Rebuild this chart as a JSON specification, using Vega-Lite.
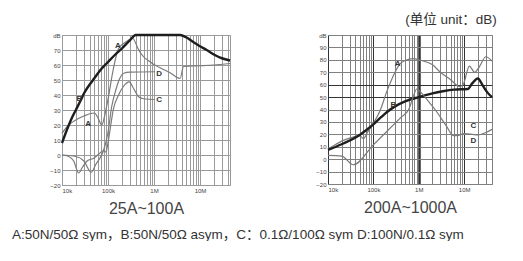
{
  "$schema": "https://vega.github.io/schema/vega-lite/v6.json",
  "padding": {"left": 12, "top": 12, "right": 0, "bottom": 0},
  "background": "white",
  "config": {
    "font": "'Liberation Sans', 'Noto Sans CJK SC', sans-serif",
    "view": {"stroke": "#999"},
    "axis": {"labelFontSize": 6, "labelColor": "#444", "ticks": false, "domain": false, "labelOverlap": false, "labelPadding": 2, "titleFontSize": 16, "titleFontWeight": "normal", "titleColor": "#444", "titlePadding": 7, "labelFont": "'Liberation Sans', sans-serif"}
  },
  "title": {"text": "A:50N/50Ω sym，B:50N/50Ω asym，C：0.1Ω/100Ω sym  D:100N/0.1Ω sym", "orient": "bottom", "anchor": "start", "frame": "group", "dx": -50, "fontSize": 13.5, "fontWeight": "normal", "color": "#333", "offset": 11},
  "spacing": 98,
  "bounds": "flush",
  "datasets": {
    "curves": [
      {"p":"L","s":"A","f":10000,"db":14.5},{"p":"L","s":"A","f":13000,"db":19},{"p":"L","s":"A","f":18000,"db":22.5},{"p":"L","s":"A","f":30000,"db":26},{"p":"L","s":"A","f":40000,"db":27.5},{"p":"L","s":"A","f":51000,"db":28},{"p":"L","s":"A","f":60000,"db":25},{"p":"L","s":"A","f":73000,"db":20},{"p":"L","s":"A","f":83000,"db":25},{"p":"L","s":"A","f":90000,"db":30},{"p":"L","s":"A","f":100000,"db":37},{"p":"L","s":"A","f":130000,"db":57},{"p":"L","s":"A","f":170000,"db":71},{"p":"L","s":"A","f":250000,"db":75.5},{"p":"L","s":"A","f":340000,"db":78},{"p":"L","s":"A","f":450000,"db":71},{"p":"L","s":"A","f":510000,"db":68},{"p":"L","s":"A","f":830000,"db":62},{"p":"L","s":"A","f":1300000,"db":58.5},{"p":"L","s":"A","f":2200000,"db":55},{"p":"L","s":"A","f":3700000,"db":51},{"p":"L","s":"A","f":4400000,"db":59},{"p":"L","s":"A","f":10000000,"db":59.5},{"p":"L","s":"A","f":20000000,"db":60},{"p":"L","s":"A","f":45000000,"db":61},
      {"p":"L","s":"B","f":10000,"db":8},{"p":"L","s":"B","f":12500,"db":16},{"p":"L","s":"B","f":16000,"db":24},{"p":"L","s":"B","f":20000,"db":30},{"p":"L","s":"B","f":26000,"db":37},{"p":"L","s":"B","f":30000,"db":41},{"p":"L","s":"B","f":40000,"db":47},{"p":"L","s":"B","f":50000,"db":51},{"p":"L","s":"B","f":70000,"db":57},{"p":"L","s":"B","f":100000,"db":62},{"p":"L","s":"B","f":150000,"db":67.5},{"p":"L","s":"B","f":200000,"db":71},{"p":"L","s":"B","f":300000,"db":76.5},{"p":"L","s":"B","f":400000,"db":80},{"p":"L","s":"B","f":3700000,"db":80},{"p":"L","s":"B","f":5000000,"db":78.5},{"p":"L","s":"B","f":7000000,"db":75.5},{"p":"L","s":"B","f":10000000,"db":72.5},{"p":"L","s":"B","f":14000000,"db":70},{"p":"L","s":"B","f":20000000,"db":67},{"p":"L","s":"B","f":30000000,"db":64.5},{"p":"L","s":"B","f":45000000,"db":63},
      {"p":"L","s":"C","f":10000,"db":0},{"p":"L","s":"C","f":14000,"db":-1},{"p":"L","s":"C","f":18000,"db":-4},{"p":"L","s":"C","f":23000,"db":-12},{"p":"L","s":"C","f":28000,"db":-8},{"p":"L","s":"C","f":35000,"db":-4},{"p":"L","s":"C","f":50000,"db":-2},{"p":"L","s":"C","f":65000,"db":1},{"p":"L","s":"C","f":80000,"db":3},{"p":"L","s":"C","f":90000,"db":2},{"p":"L","s":"C","f":100000,"db":8},{"p":"L","s":"C","f":115000,"db":20},{"p":"L","s":"C","f":130000,"db":30},{"p":"L","s":"C","f":170000,"db":40},{"p":"L","s":"C","f":220000,"db":46},{"p":"L","s":"C","f":290000,"db":48.7},{"p":"L","s":"C","f":350000,"db":45},{"p":"L","s":"C","f":470000,"db":38.7},{"p":"L","s":"C","f":600000,"db":37.5},{"p":"L","s":"C","f":1050000,"db":37},
      {"p":"L","s":"D","f":10000,"db":0},{"p":"L","s":"D","f":20000,"db":-1},{"p":"L","s":"D","f":30000,"db":-4},{"p":"L","s":"D","f":43000,"db":-11.5},{"p":"L","s":"D","f":55000,"db":-6},{"p":"L","s":"D","f":70000,"db":-1},{"p":"L","s":"D","f":80000,"db":3},{"p":"L","s":"D","f":100000,"db":15},{"p":"L","s":"D","f":120000,"db":32},{"p":"L","s":"D","f":150000,"db":44},{"p":"L","s":"D","f":180000,"db":51},{"p":"L","s":"D","f":220000,"db":54.5},{"p":"L","s":"D","f":300000,"db":55.3},{"p":"L","s":"D","f":1050000,"db":55.5},
      {"p":"R","s":"A","f":10000,"db":8},{"p":"R","s":"A","f":15000,"db":12},{"p":"R","s":"A","f":20000,"db":14.5},{"p":"R","s":"A","f":30000,"db":17},{"p":"R","s":"A","f":50000,"db":19},{"p":"R","s":"A","f":60000,"db":16.5},{"p":"R","s":"A","f":75000,"db":22},{"p":"R","s":"A","f":100000,"db":29},{"p":"R","s":"A","f":140000,"db":39},{"p":"R","s":"A","f":200000,"db":55},{"p":"R","s":"A","f":300000,"db":70},{"p":"R","s":"A","f":380000,"db":76.5},{"p":"R","s":"A","f":500000,"db":79.5},{"p":"R","s":"A","f":750000,"db":81},{"p":"R","s":"A","f":1000000,"db":80},{"p":"R","s":"A","f":2000000,"db":76},{"p":"R","s":"A","f":3000000,"db":70},{"p":"R","s":"A","f":5000000,"db":64},{"p":"R","s":"A","f":8000000,"db":58.5},{"p":"R","s":"A","f":9500000,"db":60},{"p":"R","s":"A","f":13000000,"db":75},{"p":"R","s":"A","f":17000000,"db":70},{"p":"R","s":"A","f":22000000,"db":75},{"p":"R","s":"A","f":30000000,"db":82.5},{"p":"R","s":"A","f":41000000,"db":79},
      {"p":"R","s":"B","f":10000,"db":7.5},{"p":"R","s":"B","f":20000,"db":12},{"p":"R","s":"B","f":30000,"db":15},{"p":"R","s":"B","f":50000,"db":19.5},{"p":"R","s":"B","f":70000,"db":23.5},{"p":"R","s":"B","f":100000,"db":28},{"p":"R","s":"B","f":150000,"db":34},{"p":"R","s":"B","f":200000,"db":38},{"p":"R","s":"B","f":300000,"db":42.5},{"p":"R","s":"B","f":500000,"db":46.5},{"p":"R","s":"B","f":1000000,"db":50},{"p":"R","s":"B","f":2000000,"db":53},{"p":"R","s":"B","f":3400000,"db":54.7},{"p":"R","s":"B","f":6000000,"db":56},{"p":"R","s":"B","f":12000000,"db":56.5},{"p":"R","s":"B","f":15000000,"db":61},{"p":"R","s":"B","f":20000000,"db":65},{"p":"R","s":"B","f":26000000,"db":59},{"p":"R","s":"B","f":32000000,"db":54},{"p":"R","s":"B","f":41000000,"db":50},
      {"p":"R","s":"C","f":10000,"db":3},{"p":"R","s":"C","f":20000,"db":2.5},{"p":"R","s":"C","f":36000,"db":-4.5},{"p":"R","s":"C","f":100000,"db":11.5},{"p":"R","s":"C","f":200000,"db":22.5},{"p":"R","s":"C","f":400000,"db":33.5},{"p":"R","s":"C","f":600000,"db":40},{"p":"R","s":"C","f":750000,"db":50},{"p":"R","s":"C","f":900000,"db":56.5},{"p":"R","s":"C","f":1100000,"db":54},{"p":"R","s":"C","f":1600000,"db":47},{"p":"R","s":"C","f":2500000,"db":38},{"p":"R","s":"C","f":4000000,"db":27},{"p":"R","s":"C","f":5800000,"db":19},{"p":"R","s":"C","f":7000000,"db":19},{"p":"R","s":"C","f":10000000,"db":20.5},{"p":"R","s":"C","f":15000000,"db":20},{"p":"R","s":"C","f":20000000,"db":19.5},{"p":"R","s":"C","f":30000000,"db":21.5},{"p":"R","s":"C","f":41000000,"db":24}
    ],
    "labels": [
      {"p":"L","t":"A","f":165000,"db":73},{"p":"L","t":"A","f":37000,"db":21},{"p":"L","t":"B","f":24000,"db":37.5},{"p":"L","t":"D","f":1300000,"db":54},{"p":"L","t":"C","f":1300000,"db":36.7},
      {"p":"R","t":"A","f":340000,"db":77},{"p":"R","t":"B","f":275000,"db":44},{"p":"R","t":"C","f":16000000,"db":27},{"p":"R","t":"D","f":16000000,"db":14.5}
    ]
  },
  "hconcat": [
    {
      "width": 168, "height": 150,
      "encoding": {
        "x": {"field": "f", "type": "quantitative", "scale": {"type": "log", "domain": [10000, 45000000], "nice": false},
          "axis": {"title": "25A~100A", "gridColor": "#9a9a9a", "values": [10000,20000,30000,40000,50000,60000,70000,80000,90000,100000,200000,300000,400000,500000,600000,700000,800000,900000,1000000,2000000,3000000,4000000,5000000,6000000,7000000,8000000,9000000,10000000,20000000,30000000,40000000],
            "labelExpr": "datum.value==10000?'10k':datum.value==100000?'100k':datum.value==1000000?'1M':datum.value==10000000?'10M':''"}},
        "y": {"field": "db", "type": "quantitative", "scale": {"domain": [-20, 80], "nice": false, "zero": false},
          "axis": {"title": null, "gridColor": "#9a9a9a", "values": [-20,-10,0,10,20,30,40,50,60,70,80], "labelExpr": "datum.value==80?'dB':datum.label"}}
      },
      "layer": [
        {
          "data": {"name": "curves"},
          "transform": [{"filter": "datum.p == 'L'"}],
          "mark": {"type": "line", "interpolate": "monotone"},
          "encoding": {
            "detail": {"field": "s"},
            "color": {"condition": {"test": "datum.s == 'B'", "value": "#1e1e1e"}, "value": "#7a7a7a"},
            "strokeWidth": {"condition": {"test": "datum.s == 'B'", "value": 2.4}, "value": 1.2}
          }
        },
        {
          "data": {"name": "labels"},
          "transform": [{"filter": "datum.p == 'L'"}],
          "mark": {"type": "text", "fontSize": 8, "fontWeight": "bold", "color": "#333"},
          "encoding": {"text": {"field": "t"}}
        }
      ]
    },
    {
      "width": 164, "height": 149,
      "title": {"text": "(单位 unit：dB)", "anchor": "end", "fontSize": 13.5, "fontWeight": "normal", "color": "#333", "offset": 6},
      "encoding": {
        "x": {"field": "f", "type": "quantitative", "scale": {"type": "log", "domain": [10000, 41000000], "nice": false},
          "axis": {"title": "200A~1000A",
            "gridColor": {"condition": {"test": "datum.value==10000||datum.value==100000||datum.value==1000000||datum.value==10000000", "value": "#333"}, "value": "#808080"},
            "gridWidth": {"condition": {"test": "datum.value==1000000", "value": 2.5}, "value": 1},
            "values": [10000,20000,30000,40000,50000,60000,70000,80000,90000,100000,200000,300000,400000,500000,600000,700000,800000,900000,1000000,2000000,3000000,4000000,5000000,6000000,7000000,8000000,9000000,10000000,20000000,30000000,40000000],
            "labelExpr": "datum.value==10000?'10k':datum.value==100000?'100k':datum.value==1000000?'1M':datum.value==10000000?'10M':''"}},
        "y": {"field": "db", "type": "quantitative", "scale": {"domain": [-20, 100], "nice": false, "zero": false},
          "axis": {"title": null,
            "gridColor": {"condition": {"test": "datum.value==50||datum.value==60", "value": "#333"}, "value": "#808080"},
            "values": [-20,-10,0,10,20,30,40,50,60,70,80,90,100], "labelExpr": "datum.value==100?'dB':datum.label"}}
      },
      "layer": [
        {
          "data": {"name": "curves"},
          "transform": [{"filter": "datum.p == 'R'"}],
          "mark": {"type": "line", "interpolate": "monotone"},
          "encoding": {
            "detail": {"field": "s"},
            "color": {"condition": {"test": "datum.s == 'B'", "value": "#1e1e1e"}, "value": "#7a7a7a"},
            "strokeWidth": {"condition": {"test": "datum.s == 'B'", "value": 2.4}, "value": 1.2}
          }
        },
        {
          "data": {"name": "labels"},
          "transform": [{"filter": "datum.p == 'R'"}],
          "mark": {"type": "text", "fontSize": 8, "fontWeight": "bold", "color": "#333"},
          "encoding": {"text": {"field": "t"}}
        }
      ]
    }
  ]
}
